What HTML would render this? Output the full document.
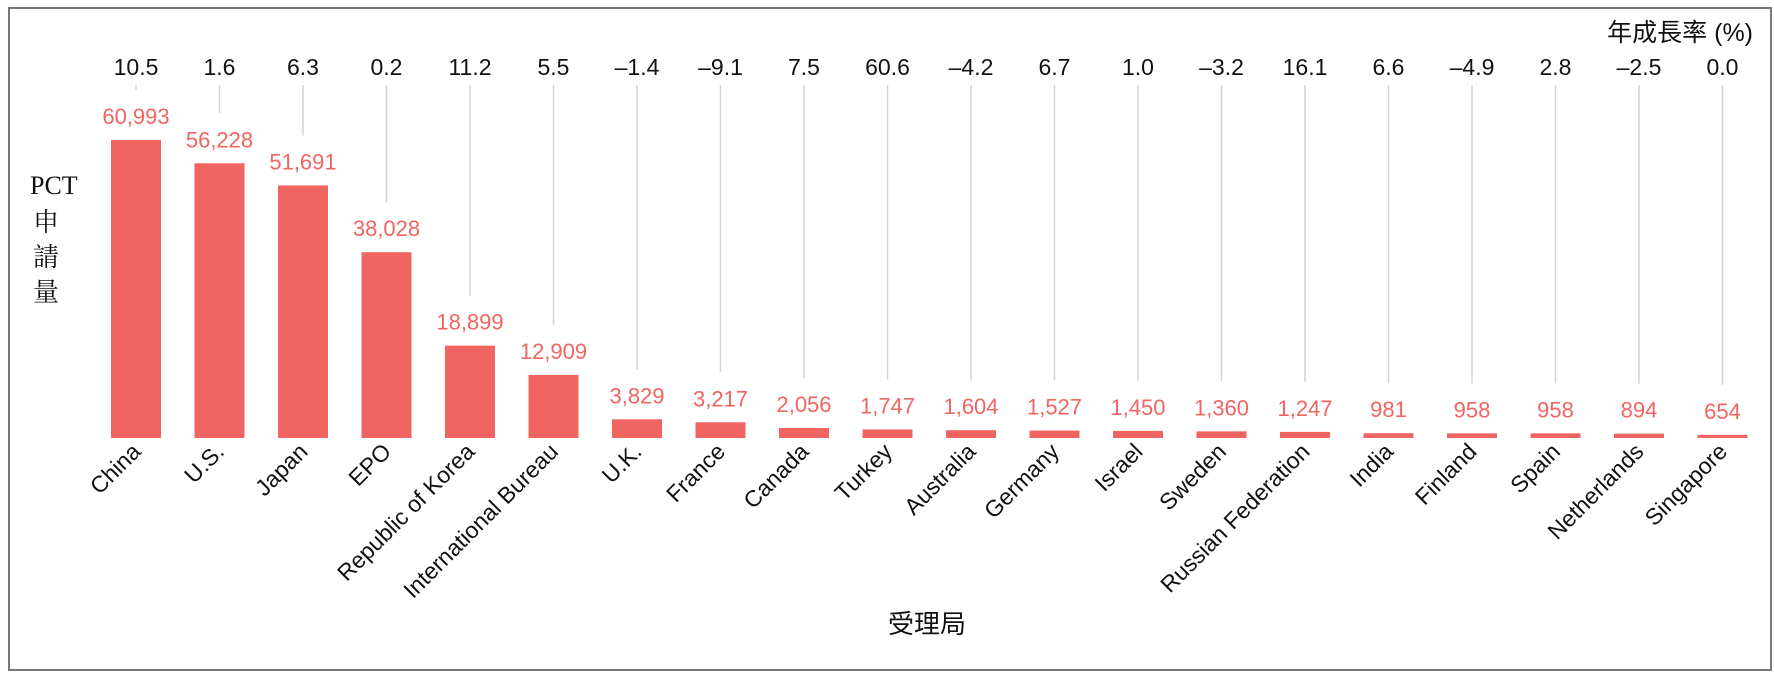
<!DOCTYPE html>
<html><head><meta charset="utf-8"><style>
body{margin:0;background:#fff}
svg{display:block}
text{font-family:"Liberation Sans","Noto Sans CJK TC",sans-serif}
</style></head><body>
<svg id="chart" width="1774" height="674" viewBox="0 0 1774 674">
<rect x="9" y="8" width="1762" height="662" fill="#fff" stroke="#777" stroke-width="2"/>
<text x="1753" y="41" text-anchor="end" font-size="25" fill="#111">年成長率 (%)</text>
<g font-size="26" fill="#111">
<text x="30" y="194" style="font-family:'Liberation Serif','Noto Serif CJK SC',serif">PCT</text>
<text x="33" y="231" style="font-family:'Liberation Serif','Noto Serif CJK SC',serif">申</text>
<text x="33" y="266" style="font-family:'Liberation Serif','Noto Serif CJK SC',serif">請</text>
<text x="33" y="301" style="font-family:'Liberation Serif','Noto Serif CJK SC',serif">量</text>
</g>
<text x="927" y="633" text-anchor="middle" font-size="26" fill="#111">受理局</text>
<g id="grid"></g><g id="bars"></g><g id="labels"></g>
</svg>
<script>
const categories=["China","U.S.","Japan","EPO","Republic of Korea","International Bureau","U.K.","France","Canada","Turkey","Australia","Germany","Israel","Sweden","Russian Federation","India","Finland","Spain","Netherlands","Singapore"];
const applications=[60993,56228,51691,38028,18899,12909,3829,3217,2056,1747,1604,1527,1450,1360,1247,981,958,958,894,654];
const valueLabels=["60,993","56,228","51,691","38,028","18,899","12,909","3,829","3,217","2,056","1,747","1,604","1,527","1,450","1,360","1,247","981","958","958","894","654"];
const growthLabels=["10.5","1.6","6.3","0.2","11.2","5.5","–1.4","–9.1","7.5","60.6","–4.2","6.7","1.0","–3.2","16.1","6.6","–4.9","2.8","–2.5","0.0"];
const NS="http://www.w3.org/2000/svg";
const x0=136,step=83.5,base=438,barW=50,maxV=60993,maxH=298;
const xs=i=>x0+i*step;
const ys=v=>base-v/maxV*maxH;
const grid=document.getElementById('grid'),bars=document.getElementById('bars'),labels=document.getElementById('labels');
function mk(tag,attrs,parent){const e=document.createElementNS(NS,tag);for(const k in attrs)e.setAttribute(k,attrs[k]);parent.appendChild(e);return e;}
categories.forEach((c,i)=>{
  const cx=xs(i),top=ys(applications[i]);
  const g=mk('line',{x1:cx,x2:cx,y1:85,y2:top-50,stroke:'#d4d4d4','stroke-width':1.5},grid);
  
  
  const r=mk('rect',{x:cx-barW/2,y:top,width:barW,height:base-top,fill:'#f06561'},bars);
  
  
  const v=mk('text',{x:cx,y:top-16,'text-anchor':'middle','font-size':22,fill:'#f06561'},labels);
  v.textContent=valueLabels[i];
  
  
  const gr=mk('text',{x:cx,y:75,'text-anchor':'middle','font-size':23,fill:'#111'},labels);
  gr.textContent=growthLabels[i];
  
  
  const t=mk('text',{x:cx+6,y:453,'text-anchor':'end','font-size':23,fill:'#111',transform:'rotate(-45 '+(cx+6)+' 453)'},labels);
  t.textContent=c;
  
  
});
</script>
</body></html>
